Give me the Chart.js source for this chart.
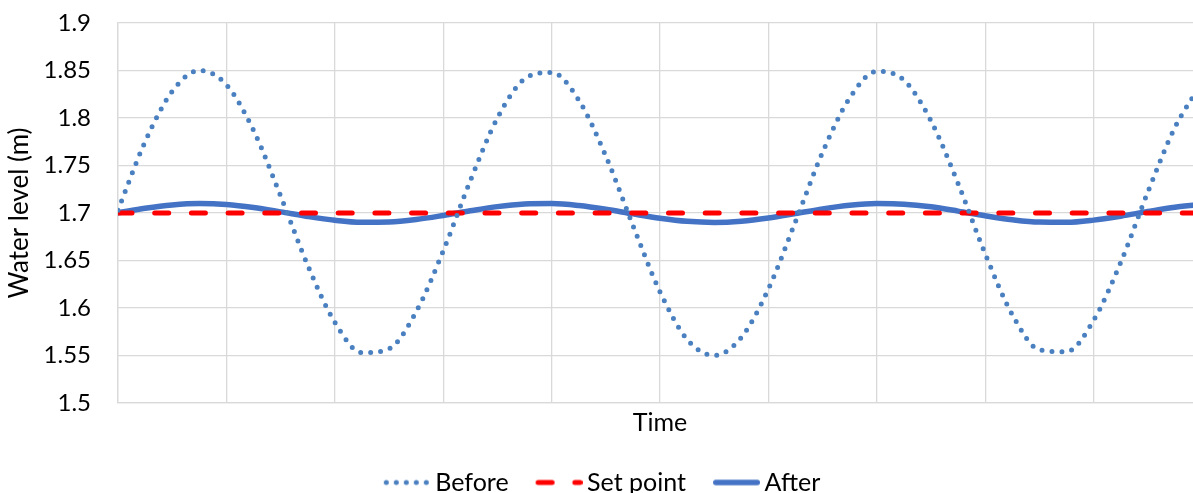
<!DOCTYPE html>
<html>
<head>
<meta charset="utf-8">
<title>Water level</title>
<script src="https://cdn.jsdelivr.net/npm/chart.js@4.4.1/dist/chart.umd.min.js"></script>
<style>
  html, body { margin: 0; padding: 0; background: #fff; overflow: hidden; }
  .wrap { position: relative; width: 1215px; height: 505px; }
</style>
</head>
<body>
<div class="wrap"><canvas id="levelChart"></canvas></div>
<script>
// time axis (arbitrary units, 0..100)
const time = [0, 2.5, 5, 7.5, 10, 12.5, 15, 17.5, 20, 22.5, 25, 27.5, 30, 32.5, 35, 37.5, 40,
    42.5, 45, 47.5, 50, 52.5, 55, 57.5, 60, 62.5, 65, 67.5, 70, 72.5, 75, 77.5, 80, 82.5, 85,
    87.5, 90, 92.5, 95, 97.5, 100];

// water level before control (m)
const before = [1.703, 1.775, 1.828, 1.850, 1.835, 1.787, 1.718, 1.645, 1.585, 1.553, 1.557,
    1.596, 1.660, 1.734, 1.800, 1.841, 1.848, 1.819, 1.760, 1.687, 1.617, 1.567, 1.550, 1.569,
    1.620, 1.691, 1.764, 1.821, 1.849, 1.840, 1.797, 1.731, 1.657, 1.593, 1.556, 1.554, 1.587,
    1.648, 1.722, 1.790, 1.837];

// set point (m)
const setPoint = [1.7, 1.7, 1.7, 1.7, 1.7, 1.7, 1.7, 1.7, 1.7, 1.7, 1.7, 1.7, 1.7, 1.7, 1.7,
    1.7, 1.7, 1.7, 1.7, 1.7, 1.7, 1.7, 1.7, 1.7, 1.7, 1.7, 1.7, 1.7, 1.7, 1.7, 1.7, 1.7, 1.7,
    1.7, 1.7, 1.7, 1.7, 1.7, 1.7, 1.7, 1.7];

// water level after control (m)
const after = [1.7002, 1.7050, 1.7085, 1.7100, 1.7090, 1.7058, 1.7012, 1.6963, 1.6923, 1.6902,
    1.6905, 1.6931, 1.6974, 1.7023, 1.7067, 1.7094, 1.7099, 1.7079, 1.7040, 1.6991, 1.6945,
    1.6912, 1.6900, 1.6913, 1.6947, 1.6994, 1.7043, 1.7081, 1.7099, 1.7093, 1.7065, 1.7020,
    1.6971, 1.6929, 1.6904, 1.6902, 1.6925, 1.6966, 1.7015, 1.7060, 1.7091];

const yTicks = { min: 1.5, max: 1.9, step: 0.05 };

const FONT = 'Lato, "Open Sans", sans-serif';
const GRID = '#d9d9d9';

function toPoints(values) {
    return values.map((v, i) => ({ x: time[i], y: v }));
}

const datasets = [
    {
        label: 'Before',
        data: toPoints(before),
        borderColor: '#4a80c0',
        borderWidth: 5,
        borderDash: [0, 10],
        borderCapStyle: 'round',
        pointRadius: 0,
        cubicInterpolationMode: 'monotone'
    },
    {
        label: 'Set point',
        data: toPoints(setPoint),
        borderColor: '#ff0000',
        borderWidth: 5,
        borderDash: [14, 22.7],
        borderCapStyle: 'round',
        pointRadius: 0
    },
    {
        label: 'After',
        data: toPoints(after),
        borderColor: '#4472c4',
        borderWidth: 5.5,
        borderCapStyle: 'round',
        pointRadius: 0,
        cubicInterpolationMode: 'monotone'
    }
];

// small line samples for the legend (dash styles are lost on the built-in 'line' point style)
const SAMPLE_BOX = 41;
function makeSample(ds) {
    const c = document.createElement('canvas');
    c.width = 57;
    c.height = 10;
    const g = c.getContext('2d');
    g.strokeStyle = ds.borderColor;
    g.lineWidth = ds.borderWidth;
    g.lineCap = ds.borderCapStyle || 'butt';
    g.setLineDash(ds.borderDash || []);
    const w = ds.borderWidth / 2;
    g.beginPath();
    g.moveTo(10 + w, 5);
    g.lineTo(57 - w, 5);
    g.stroke();
    return c;
}
const samples = datasets.map(makeSample);

const ctx = document.getElementById('levelChart').getContext('2d');
new Chart(ctx, {
    type: 'line',
    data: { datasets: datasets },
    options: {
        responsive: true,
        maintainAspectRatio: false,
        animation: false,
        layout: { padding: { top: 23, left: 0, right: 13, bottom: 0 } },
        plugins: {
            tooltip: { enabled: false },
            legend: {
                position: 'bottom',
                labels: {
                    usePointStyle: true,
                    pointStyleWidth: SAMPLE_BOX,
                    padding: 25,
                    color: '#000',
                    font: { family: FONT, size: 25 },
                    generateLabels(chart) {
                        const items = Chart.defaults.plugins.legend.labels.generateLabels(chart);
                        items.forEach(item => { item.pointStyle = samples[item.datasetIndex]; });
                        return items;
                    }
                }
            }
        },
        scales: {
            x: {
                type: 'linear',
                min: time[0],
                max: time[time.length - 1],
                ticks: { display: false, stepSize: 10 },
                grid: { color: GRID, lineWidth: 1.3, drawTicks: false },
                border: { color: GRID, width: 1.3 },
                title: {
                    display: true,
                    text: 'Time',
                    color: '#000',
                    font: { family: FONT, size: 25 },
                    padding: { top: 0, bottom: 7 }
                },
                afterFit(scale) { scale.height = 42; }
            },
            y: {
                min: yTicks.min,
                max: yTicks.max,
                ticks: {
                    stepSize: yTicks.step,
                    padding: 27,
                    color: '#000',
                    font: { family: FONT, size: 24 },
                    callback: v => String(Number(v.toFixed(2)))
                },
                grid: { color: GRID, lineWidth: 1.3, drawTicks: false },
                border: { color: GRID, width: 1.3 },
                title: {
                    display: true,
                    text: 'Water level (m)',
                    color: '#000',
                    font: { family: FONT, size: 26 },
                    padding: { top: 4, bottom: 0 }
                },
                afterFit(scale) {
                    scale.width = 118;
                    // keep the tick padding from pushing the plot area down
                    scale.paddingTop = 0;
                    scale.paddingBottom = 0;
                }
            }
        }
    }
});
</script>
</body>
</html>
